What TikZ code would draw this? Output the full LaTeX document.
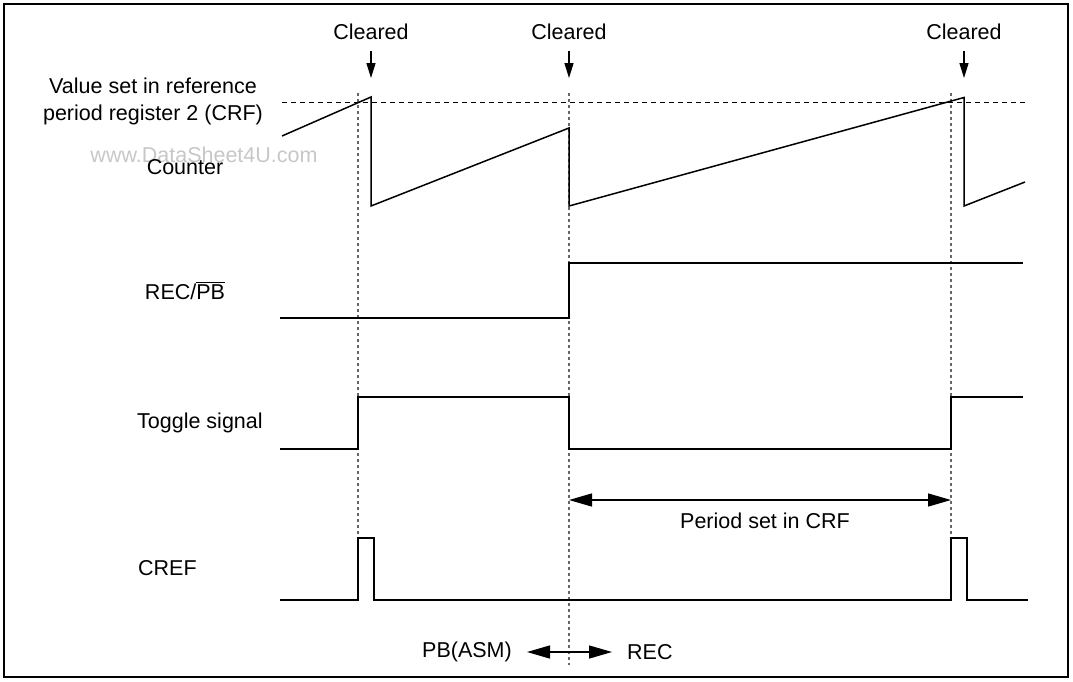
\documentclass[tikz,border=0pt]{standalone}
\usepackage{fontspec}
\setmainfont{Liberation Sans}
\usetikzlibrary{arrows.meta}
\newcommand{\barred}[1]{{\setbox0\hbox{#1}\rlap{\rule[\dimexpr\ht0+2.5pt\relax]{\wd0}{0.9pt}}\box0}}
\begin{document}
\begin{tikzpicture}[x=1pt,y=-1pt,
  lbl/.style={inner sep=0pt,font=\fontsize{21.5}{27}\selectfont},
  sig/.style={line width=1.5pt,line join=miter},
  guide/.style={line width=1.1pt,draw=black!60,dash pattern=on 3pt off 3pt},
  level/.style={line width=1.2pt,dash pattern=on 5pt off 4pt},
  clr/.style={line width=1.4pt,-{Triangle[length=15pt,width=9pt]}},
  span/.style={line width=1.4pt,{Triangle[length=23pt,width=13pt]}-{Triangle[length=23pt,width=13pt]}}]
\useasboundingbox (0,0) rectangle (1073,681);
\draw[line width=2.5pt] (4,4) rectangle (1068,677);

% labels
\node[lbl] (c1) at (371,32) {Cleared};
\node[lbl] (c2) at (569,32) {Cleared};
\node[lbl] (c3) at (964,32) {Cleared};
\node[lbl,align=center] (vs) at (153,101) {Value set in reference\\period register 2 (CRF)};
\node[lbl,text=black!22] (wm) at (204,155) {www.DataSheet4U.com};
\node[lbl] (cnt) at (185,167) {Counter};
\node[lbl] (rec) at (185,291) {REC/\barred{PB}};
\node[lbl,anchor=west] (tog) at (137,423) {Toggle signal};
\node[lbl,anchor=west] (cref) at (138,568) {CREF};
\node[lbl] (per) at (765,521) {Period set in CRF};
\node[lbl] (pb) at (467,652) {PB(ASM)};
\node[lbl,anchor=west] (rc) at (627,652) {REC};

% coordinates
\coordinate (a1s) at (371,51); \coordinate (a1e) at (371,78);
\coordinate (a2s) at (569,51); \coordinate (a2e) at (569,78);
\coordinate (a3s) at (964,51); \coordinate (a3e) at (964,78);
\coordinate (g1t) at (358,93);  \coordinate (g1b) at (358,538);
\coordinate (g2t) at (569,93);  \coordinate (g2b) at (569,665);
\coordinate (g3t) at (951,93);  \coordinate (g3b) at (951,538);
\coordinate (hl) at (282,102.7); \coordinate (hr) at (1025,102.7);
\coordinate (pl) at (569,500); \coordinate (pr) at (951,500);
\coordinate (bl) at (527,652); \coordinate (br) at (612,652);

% cleared arrows
\draw[clr] (a1s) -- (a1e);
\draw[clr] (a2s) -- (a2e);
\draw[clr] (a3s) -- (a3e);

% guides
\draw[guide] (g1t) -- (g1b);
\draw[guide] (g2t) -- (g2b);
\draw[guide] (g3t) -- (g3b);
\draw[level] (hl) -- (hr);

% counter
\draw[sig] (282,136) -- (371,97) -- (371,206) -- (569,128) -- (569,206)
  -- (964,97.5) -- (964,206) -- (1025,182);
% REC/PB
\draw[sig] (280,318) -- (569,318) -- (569,263) -- (1023,263);
% toggle
\draw[sig] (280,449) -- (358,449) -- (358,397) -- (569,397) -- (569,449)
  -- (951,449) -- (951,397) -- (1023,397);
% CREF
\draw[sig] (280,600) -- (358,600) -- (358,538) -- (374,538) -- (374,600)
  -- (951,600) -- (951,538) -- (967,538) -- (967,600) -- (1028,600);

% spans
\draw[span] (pl) -- (pr);
\draw[span] (bl) -- (br);
\end{tikzpicture}
\end{document}
